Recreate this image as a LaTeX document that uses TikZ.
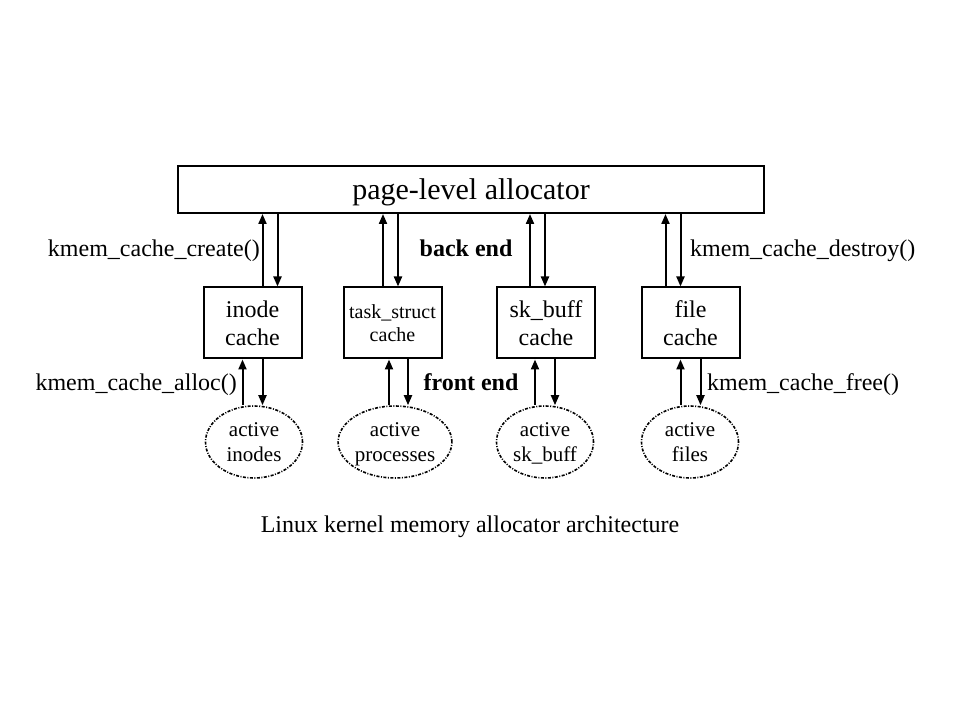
\documentclass[tikz,border=0pt]{standalone}
\usepackage{fontspec}
\setmainfont{Liberation Serif}
\usetikzlibrary{arrows.meta,shapes.geometric}

\tikzset{
  cachebox/.style={draw, line width=2pt, minimum width=98pt, minimum height=71pt,
    align=center, inner sep=0pt},
  activeset/.style={draw, ellipse, line width=1.6pt,
    dash pattern=on 3pt off 1.5pt on 1pt off 1.5pt,
    minimum width=97pt, minimum height=72pt, align=center, inner sep=0pt,
    text depth=0pt, font=\fontsize{21}{25}\selectfont},
  flow/.style={-{Triangle[length=10pt,width=8pt]}, line width=2pt},
  lbl/.style={font=\fontsize{24}{28}\selectfont, inner sep=0pt},
  boldlbl/.style={font=\fontsize{24}{28}\selectfont\bfseries, inner sep=0pt},
}

\begin{document}
\begin{tikzpicture}[x=1pt,y=-1pt]
\useasboundingbox (0,0) rectangle (959,719);

% page-level allocator
\node[draw, line width=2pt, minimum width=586pt, minimum height=47pt, text depth=0pt,
  font=\fontsize{30}{34}\selectfont] (page) at (471,189.5) {page-level allocator};

% caches
\node[cachebox, font=\fontsize{24}{28}\selectfont] (inode) at (252.5,323) {inode\\cache};
\node[cachebox, font=\fontsize{20}{23}\selectfont] (task) at (392.5,323) {task\_struct\\cache};
\node[cachebox, font=\fontsize{24}{28}\selectfont] (skbuff) at (546,323) {sk\_buff\\cache};
\node[cachebox, font=\fontsize{24}{28}\selectfont] (file) at (690.5,323) {file\\cache};

% active objects
\node[activeset] (inodes) at (254,442) {active\\inodes};
\node[activeset] (procs) at (395,442) {active\\processes};
\node[activeset] (skbufs) at (545,442) {active\\sk\_buff};
\node[activeset] (files) at (690,442) {active\\files};

% back end
\foreach \c/\a/\b in {inode/10/25, task/-9.5/5.5, skbuff/-16/-1, file/-25/-10} {
    \draw[flow] ([xshift=\a pt]\c.north) -- ([xshift=\a pt]\c.north |- page.south);
    \draw[flow] ([xshift=\b pt]\c.north |- page.south) -- ([xshift=\b pt]\c.north);
}

% front end
\foreach \c/\e/\a/\b in {inode/inodes/-10/10, task/procs/-3.5/15.5, skbuff/skbufs/-11/9, file/files/-10/10} {
    \draw[flow] ([xshift=\a pt]\c.south |- \e.north) -- ([xshift=\a pt]\c.south);
    \draw[flow] ([xshift=\b pt]\c.south) -- ([xshift=\b pt]\c.south |- \e.north);
}

% labels
\node[lbl, anchor=east] (create) at (260,250.5) {kmem\_cache\_create()};
\node[boldlbl] (backend) at (466,248) {back end};
\node[lbl, anchor=west] (destroy) at (690,250.5) {kmem\_cache\_destroy()};
\node[lbl, anchor=east] (alloc) at (237,384.5) {kmem\_cache\_alloc()};
\node[boldlbl] (frontend) at (471,382) {front end};
\node[lbl, anchor=west] (free) at (707,384.5) {kmem\_cache\_free()};

\node[lbl] (caption) at (470,527) {Linux kernel memory allocator architecture};
\end{tikzpicture}
\end{document}
